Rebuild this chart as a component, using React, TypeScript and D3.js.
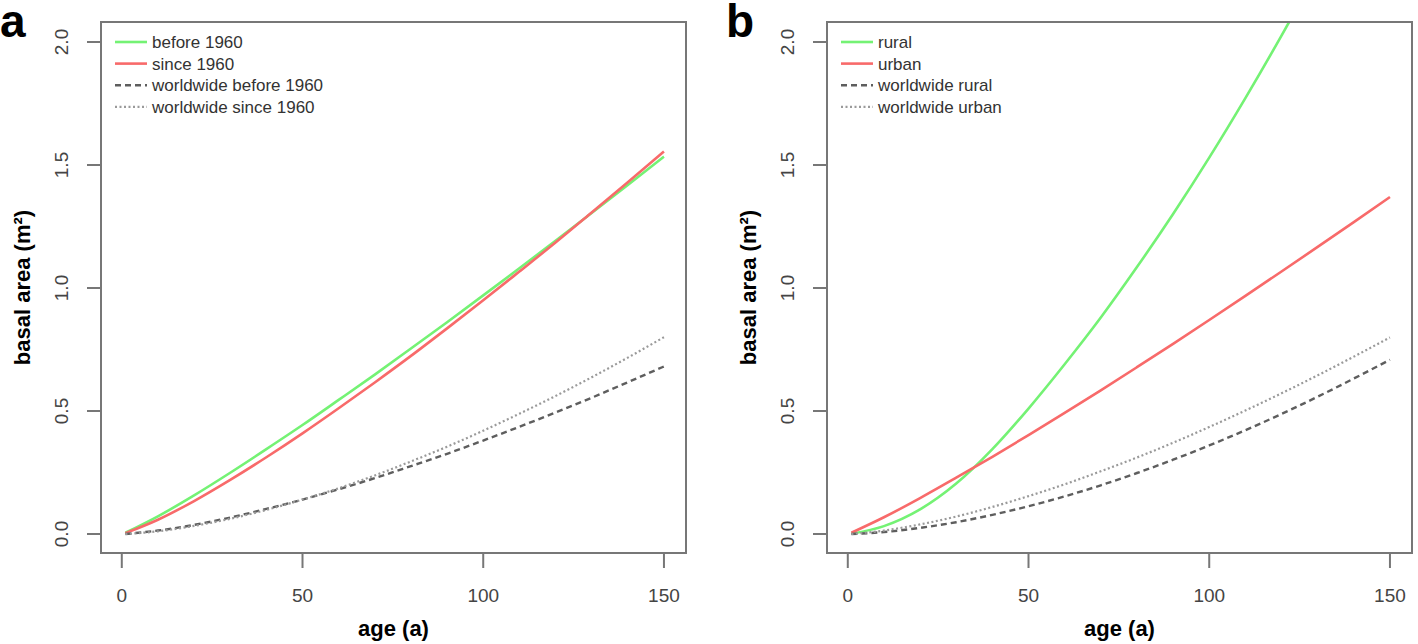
import React from "react";
import * as d3 from "d3";

const ages = [1, 10, 20, 30, 40, 50, 60, 70, 80, 90, 100, 110, 120, 130, 140, 150];

// Panel a
const before1960 = [0.005, 0.072, 0.157, 0.249, 0.345, 0.443, 0.545, 0.648, 0.754, 0.861, 0.97, 1.08, 1.192, 1.305, 1.419, 1.534];
const since1960 = [0.0035, 0.058, 0.134, 0.22, 0.312, 0.409, 0.511, 0.616, 0.724, 0.836, 0.95, 1.067, 1.185, 1.307, 1.43, 1.555];
const worldBefore1960 = [0.0, 0.014, 0.037, 0.067, 0.102, 0.14, 0.182, 0.227, 0.276, 0.326, 0.38, 0.436, 0.494, 0.554, 0.617, 0.681];
const worldSince1960 = [0.0, 0.011, 0.033, 0.062, 0.098, 0.14, 0.186, 0.238, 0.295, 0.355, 0.42, 0.489, 0.561, 0.637, 0.717, 0.8];

// Panel b
const rural = [0.001, 0.032, 0.1, 0.205, 0.345, 0.51, 0.69, 0.88, 1.085, 1.301, 1.53, 1.772, 2.026, 2.292, 2.57, 2.86];
const urban = [0.005, 0.068, 0.146, 0.229, 0.314, 0.402, 0.492, 0.584, 0.678, 0.773, 0.87, 0.968, 1.067, 1.167, 1.268, 1.37];
const worldRural = [0.0, 0.008, 0.025, 0.048, 0.078, 0.113, 0.153, 0.198, 0.248, 0.302, 0.36, 0.422, 0.488, 0.558, 0.632, 0.708];
const worldUrban = [0.0, 0.014, 0.039, 0.071, 0.11, 0.154, 0.202, 0.255, 0.311, 0.371, 0.435, 0.502, 0.572, 0.645, 0.721, 0.799];

const xTicks = [0, 50, 100, 150];
const yTicks = [0, 0.5, 1.0, 1.5, 2.0];

const legendA = ["before 1960", "since 1960", "worldwide before 1960", "worldwide since 1960"];
const legendB = ["rural", "urban", "worldwide rural", "worldwide urban"];

const FONT = "'Liberation Sans', Arial, Helvetica, sans-serif";
const GREEN = "#74f274";
const RED = "#f86a6a";
const DASH_C = "#5e5e5e";
const DOT_C = "#9a9a9a";

type Style = { color: string; dash?: string; width: number };
const styles: Style[] = [
  { color: GREEN, width: 2.6 },
  { color: RED, width: 2.6 },
  { color: DASH_C, dash: "6,4", width: 2.4 },
  { color: DOT_C, dash: "2,2.5", width: 2.2 },
];

function Panel({ left, right, letter, series, legend, id }: { left: number; right: number; letter: string; series: number[][]; legend: string[]; id: string }) {
  const top = 22;
  const bottom = 553;
  const x = d3.scaleLinear().domain([-5.75, 156.1]).range([left, right]);
  const y = d3.scaleLinear().domain([-0.0772, 2.0813]).range([bottom, top]);
  const line = d3
    .line<[number, number]>()
    .x((d) => x(d[0]))
    .y((d) => y(d[1]))
    .curve(d3.curveMonotoneX);
  const cx = (left + right) / 2;
  const cy = (top + bottom) / 2;
  return (
    <g>
      <defs>
        <clipPath id={id}>
          <rect x={left} y={top} width={right - left} height={bottom - top} />
        </clipPath>
      </defs>
      <text x={left - 101} y={37} fontSize={46} fontWeight="bold" fontFamily={FONT} fill="#000">
        {letter}
      </text>
      <g clipPath={`url(#${id})`}>
        {series.map((s, i) => {
          const pts = ages.map((a, j) => [a, s[j]] as [number, number]);
          const st = styles[i];
          return (
            <path
              key={i}
              d={line(pts) || ""}
              fill="none"
              stroke={st.color}
              strokeWidth={st.width}
              strokeDasharray={st.dash}
            />
          );
        })}
      </g>
      <rect x={left} y={top} width={right - left} height={bottom - top} fill="none" stroke="#777" strokeWidth={2} />
      {xTicks.map((t) => (
        <g key={"x" + t}>
          <line x1={x(t)} x2={x(t)} y1={bottom} y2={bottom + 15} stroke="#777" strokeWidth={2} />
          <text x={x(t)} y={602} textAnchor="middle" fontSize={19} fontFamily={FONT} fill="#444">
            {String(t)}
          </text>
        </g>
      ))}
      {yTicks.map((t) => (
        <g key={"y" + t}>
          <line x1={left - 14} x2={left} y1={y(t)} y2={y(t)} stroke="#777" strokeWidth={2} />
          <text
            transform={`translate(${left - 33},${y(t)}) rotate(-90)`}
            textAnchor="middle"
            fontSize={19}
            fontFamily={FONT}
            fill="#444"
          >
            {t.toFixed(1)}
          </text>
        </g>
      ))}
      <text x={cx} y={636} textAnchor="middle" fontSize={22} fontWeight="bold" fontFamily={FONT} fill="#000">
        age (a)
      </text>
      <text
        transform={`translate(${left - 71},${cy}) rotate(-90)`}
        textAnchor="middle"
        fontSize={22}
        fontWeight="bold"
        fontFamily={FONT}
        fill="#000"
      >
        basal area (m²)
      </text>
      {legend.map((lab, i) => {
        const ly = 42 + i * 21.6;
        const st = styles[i];
        return (
          <g key={lab}>
            <line
              x1={left + 14}
              x2={left + 46}
              y1={ly}
              y2={ly}
              stroke={st.color}
              strokeWidth={st.width}
              strokeDasharray={st.dash}
            />
            <text x={left + 51} y={ly + 6} fontSize={17} fontFamily={FONT} fill="#333">
              {lab}
            </text>
          </g>
        );
      })}
    </g>
  );
}

export default function App() {
  return (
    <svg
      width={1418}
      height={644}
      style={{ position: "absolute", left: 0, top: 0, background: "#fff" }}
    >
      <rect x={0} y={0} width={1418} height={644} fill="#fff" />
      <Panel left={101} right={686} letter="a" series={[before1960, since1960, worldBefore1960, worldSince1960]} legend={legendA} id="clipA" />
      <Panel left={827} right={1412} letter="b" series={[rural, urban, worldRural, worldUrban]} legend={legendB} id="clipB" />
    </svg>
  );
}
